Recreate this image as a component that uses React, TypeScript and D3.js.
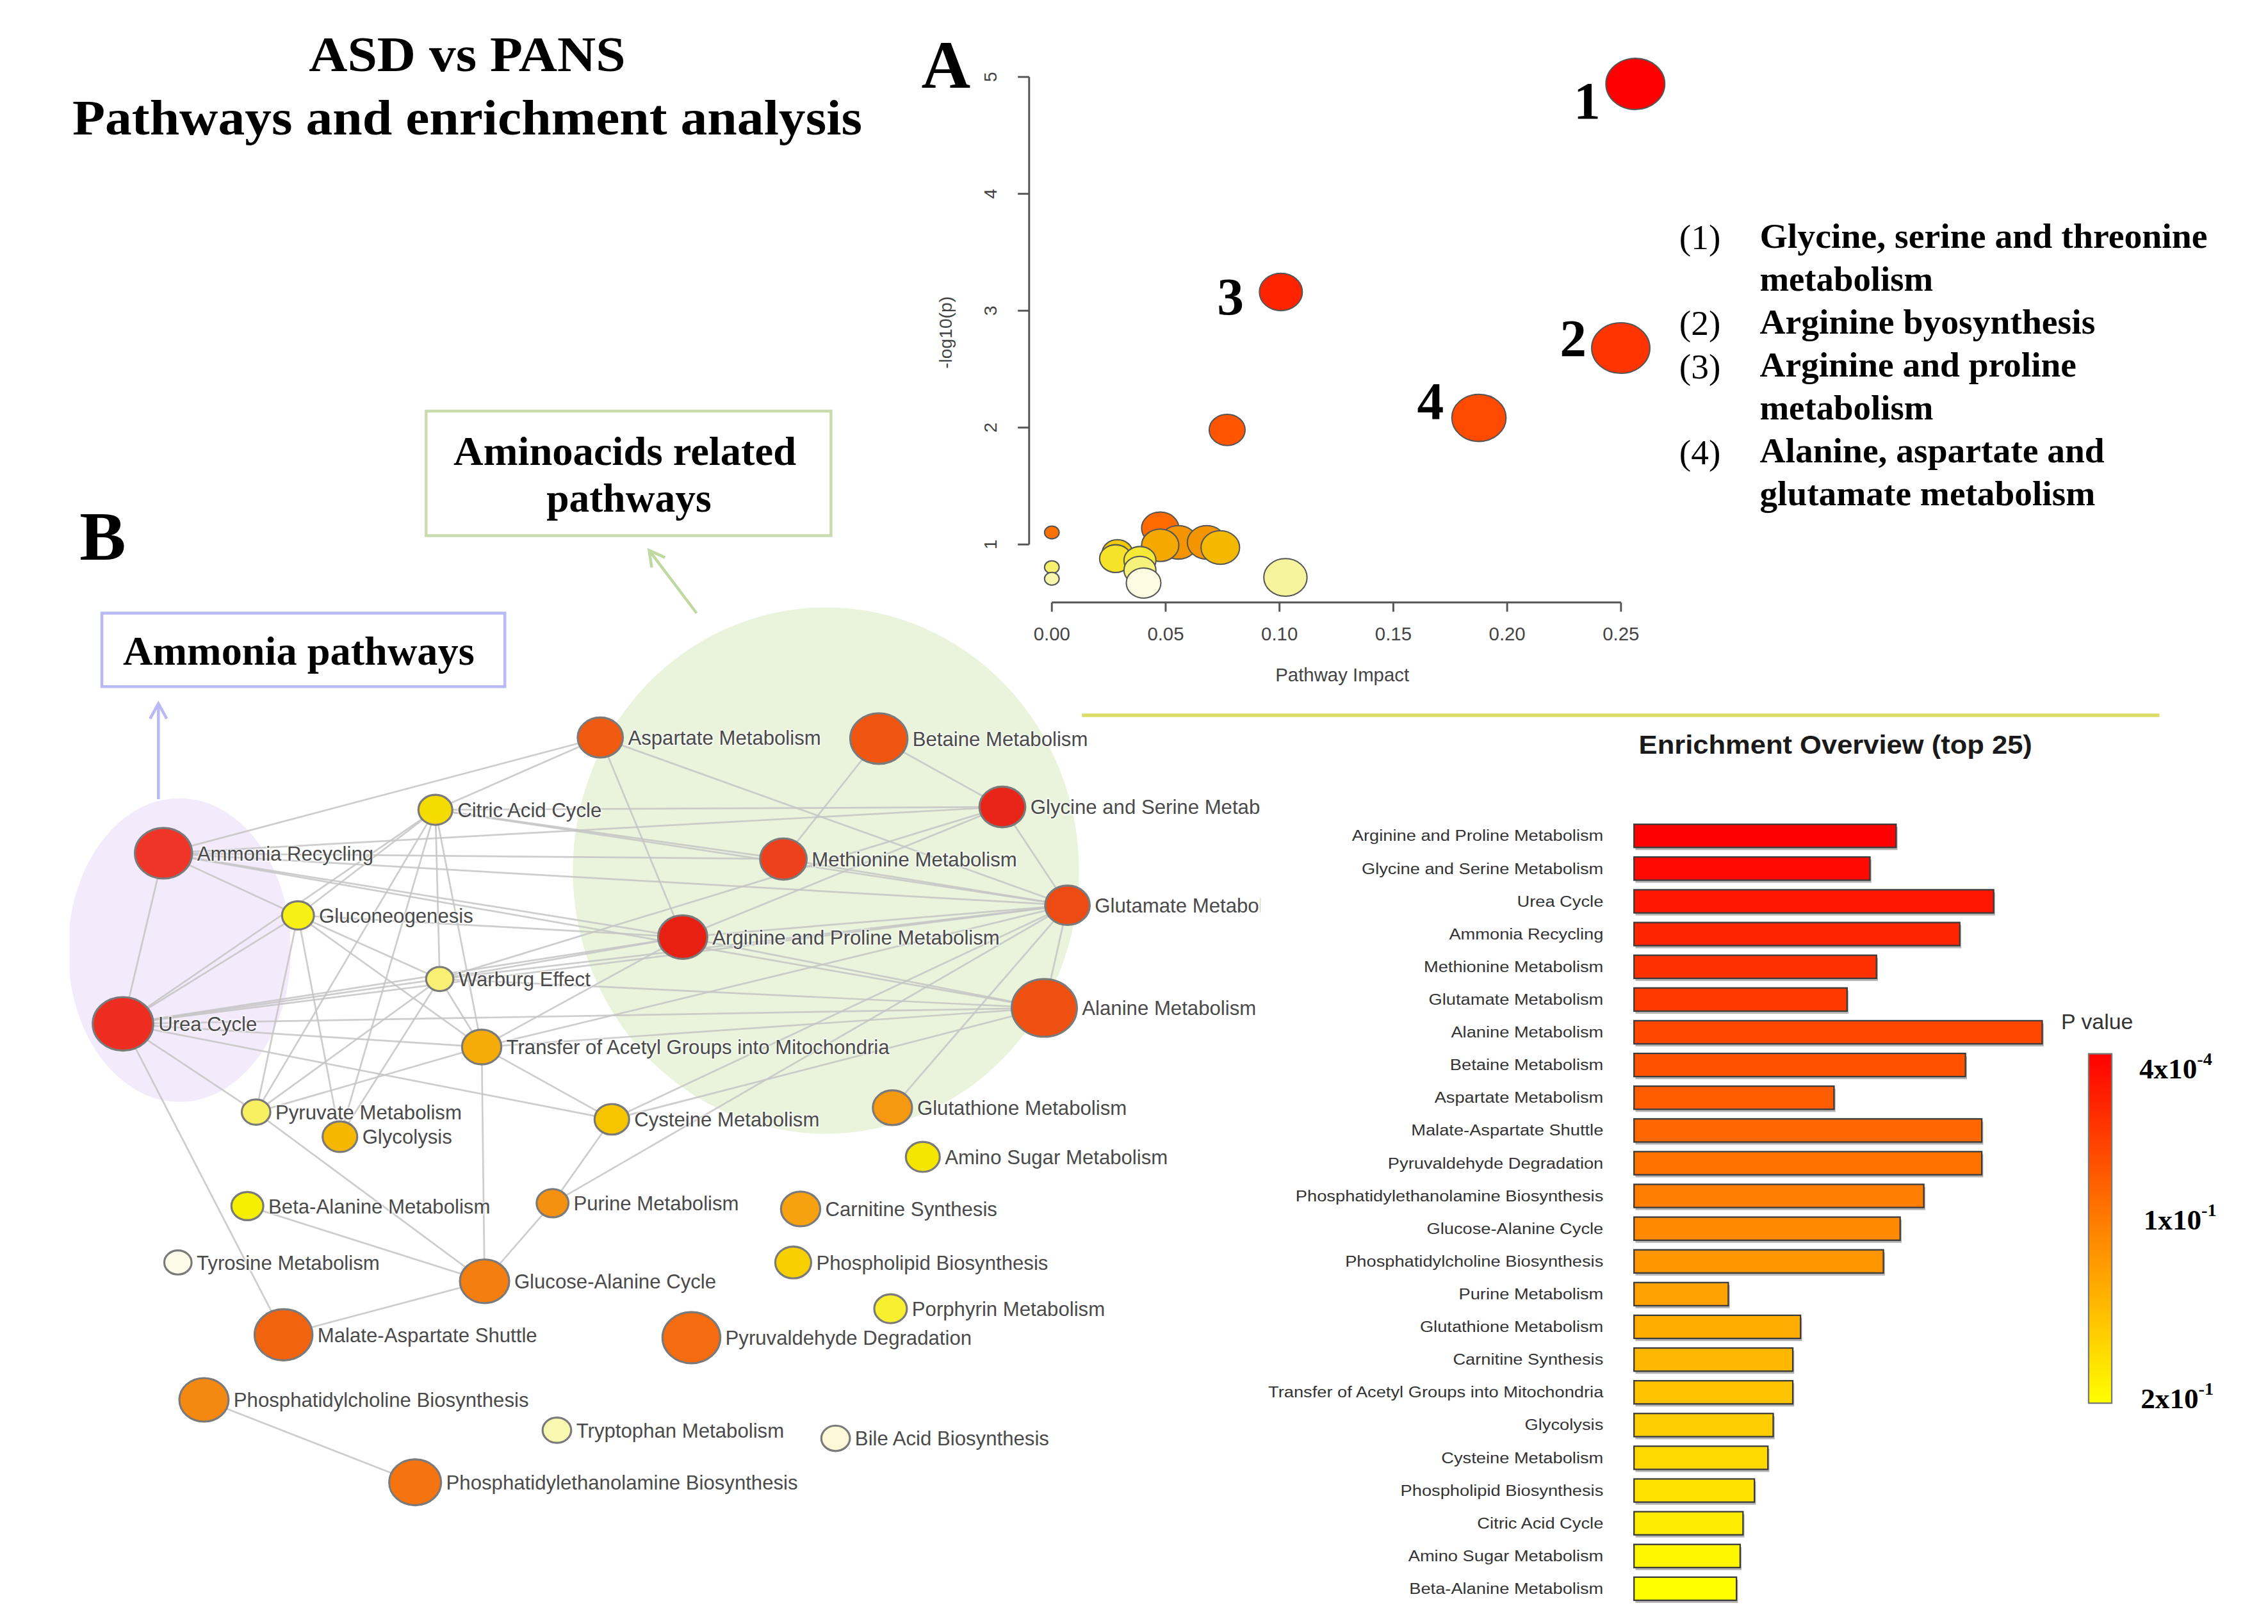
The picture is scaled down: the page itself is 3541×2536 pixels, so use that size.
import React from 'react';
import * as d3 from 'd3';

const SERIF = '"Liberation Serif", "Times New Roman", Times, serif';
const SANS = '"Liberation Sans", Arial, Helvetica, sans-serif';

// ---------- Panel A: pathway impact vs -log10(p) ----------
const impactPoints = [
  { impact: 0.0476, logp: 1.139, size: 0.56, tag: '' },
  { impact: 0.0556, logp: 1.018, size: 0.58, tag: '' },
  { impact: 0.0476, logp: 0.993, size: 0.56, tag: '' },
  { impact: 0.068, logp: 1.018, size: 0.58, tag: '' },
  { impact: 0.074, logp: 0.974, size: 0.58, tag: '' },
  { impact: 0.0288, logp: 0.927, size: 0.46, tag: '' },
  { impact: 0.028, logp: 0.879, size: 0.48, tag: '' },
  { impact: 0.0387, logp: 0.864, size: 0.48, tag: '' },
  { impact: 0.0387, logp: 0.78, size: 0.48, tag: '' },
  { impact: 0.0403, logp: 0.67, size: 0.52, tag: '' },
  { impact: 0.1026, logp: 0.718, size: 0.65, tag: '' },
  { impact: 0.0, logp: 1.103, size: 0.22, tag: '' },
  { impact: 0.0, logp: 0.806, size: 0.22, tag: '' },
  { impact: 0.0, logp: 0.707, size: 0.22, tag: '' },
  { impact: 0.077, logp: 1.98, size: 0.54, tag: '' },
  { impact: 0.1876, logp: 2.083, size: 0.815, tag: '4' },
  { impact: 0.1006, logp: 3.16, size: 0.645, tag: '3' },
  { impact: 0.2499, logp: 2.68, size: 0.875, tag: '2' },
  { impact: 0.2563, logp: 4.94, size: 0.885, tag: '1' },
];
// label placement (gap left of bubble, baseline offset)
const tagOffsets: Record<string, [number, number]> = {
  '1': [-3.8, 23.7],
  '2': [-3.5, 5.4],
  '3': [-10.7, 15.6],
  '4': [-5.5, 0.6],
};

const pathwayKey = [
  { num: '(1)', lines: ['Glycine, serine and threonine', 'metabolism'] },
  { num: '(2)', lines: ['Arginine byosynthesis'] },
  { num: '(3)', lines: ['Arginine and proline', 'metabolism'] },
  { num: '(4)', lines: ['Alanine, aspartate and', 'glutamate metabolism'] },
];
const keyWidths = [309.6, 119.9, 232, 219, 120, 238.4, 232];

// ---------- Enrichment overview (top 25) ----------
const enrichNames = [
  'Arginine and Proline Metabolism',
  'Glycine and Serine Metabolism',
  'Urea Cycle',
  'Ammonia Recycling',
  'Methionine Metabolism',
  'Glutamate Metabolism',
  'Alanine Metabolism',
  'Betaine Metabolism',
  'Aspartate Metabolism',
  'Malate-Aspartate Shuttle',
  'Pyruvaldehyde Degradation',
  'Phosphatidylethanolamine Biosynthesis',
  'Glucose-Alanine Cycle',
  'Phosphatidylcholine Biosynthesis',
  'Purine Metabolism',
  'Glutathione Metabolism',
  'Carnitine Synthesis',
  'Transfer of Acetyl Groups into Mitochondria',
  'Glycolysis',
  'Cysteine Metabolism',
  'Phospholipid Biosynthesis',
  'Citric Acid Cycle',
  'Amino Sugar Metabolism',
  'Beta-Alanine Metabolism',
];
const enrichFold = [
  6.42, 5.78, 8.81, 7.98, 5.94, 5.22, 10.0, 8.12, 4.9, 8.52, 8.52, 7.1,
  6.52, 6.11, 2.31, 4.08, 3.89, 3.89, 3.41, 3.28, 2.95, 2.67, 2.6, 2.51,
];
const enrichP = [
  0.0004, 0.0005, 0.0007, 0.001, 0.0013, 0.0017, 0.0023, 0.003, 0.004, 0.0052,
  0.0068, 0.009, 0.012, 0.016, 0.021, 0.028, 0.036, 0.047, 0.062, 0.08, 0.1,
  0.13, 0.16, 0.2,
];

// ---------- Panel B: pathway network ----------
const netNodes = [
  { key: 'asp', name: 'Aspartate Metabolism', p: 0.004, size: 0.68 },
  { key: 'bet', name: 'Betaine Metabolism', p: 0.003, size: 0.86 },
  { key: 'cit', name: 'Citric Acid Cycle', p: 0.13, size: 0.51 },
  { key: 'gly', name: 'Glycine and Serine Metabolism', p: 0.0005, size: 0.69 },
  { key: 'amm', name: 'Ammonia Recycling', p: 0.001, size: 0.86 },
  { key: 'met', name: 'Methionine Metabolism', p: 0.0013, size: 0.7 },
  { key: 'glc', name: 'Gluconeogenesis', p: 0.22, size: 0.48 },
  { key: 'glu', name: 'Glutamate Metabolism', p: 0.0017, size: 0.67 },
  { key: 'arg', name: 'Arginine and Proline Metabolism', p: 0.0004, size: 0.74 },
  { key: 'war', name: 'Warburg Effect', p: 0.32, size: 0.41 },
  { key: 'ala', name: 'Alanine Metabolism', p: 0.0023, size: 0.98 },
  { key: 'urea', name: 'Urea Cycle', p: 0.0007, size: 0.91 },
  { key: 'tra', name: 'Transfer of Acetyl Groups into Mitochondria', p: 0.047, size: 0.59 },
  { key: 'pyr', name: 'Pyruvate Metabolism', p: 0.3, size: 0.43 },
  { key: 'gcl', name: 'Glycolysis', p: 0.062, size: 0.52 },
  { key: 'cys', name: 'Cysteine Metabolism', p: 0.08, size: 0.52 },
  { key: 'gsh', name: 'Glutathione Metabolism', p: 0.028, size: 0.59 },
  { key: 'ams', name: 'Amino Sugar Metabolism', p: 0.16, size: 0.51 },
  { key: 'bal', name: 'Beta-Alanine Metabolism', p: 0.2, size: 0.48 },
  { key: 'pur', name: 'Purine Metabolism', p: 0.021, size: 0.48 },
  { key: 'car', name: 'Carnitine Synthesis', p: 0.036, size: 0.59 },
  { key: 'tyr', name: 'Tyrosine Metabolism', p: 0.6, size: 0.41 },
  { key: 'phl', name: 'Phospholipid Biosynthesis', p: 0.1, size: 0.54 },
  { key: 'gac', name: 'Glucose-Alanine Cycle', p: 0.012, size: 0.74 },
  { key: 'por', name: 'Porphyrin Metabolism', p: 0.25, size: 0.49 },
  { key: 'mas', name: 'Malate-Aspartate Shuttle', p: 0.0052, size: 0.87 },
  { key: 'pdd', name: 'Pyruvaldehyde Degradation', p: 0.0068, size: 0.87 },
  { key: 'pc', name: 'Phosphatidylcholine Biosynthesis', p: 0.016, size: 0.74 },
  { key: 'trp', name: 'Tryptophan Metabolism', p: 0.4, size: 0.43 },
  { key: 'bil', name: 'Bile Acid Biosynthesis', p: 0.5, size: 0.43 },
  { key: 'pe', name: 'Phosphatidylethanolamine Biosynthesis', p: 0.009, size: 0.78 },
];

// force-layout positions of the network (layout units)
const netLayout: Record<string, [number, number]> = {
  asp: [367, 20], bet: [559.6, 20.7], cit: [253, 70], gly: [645, 68],
  amm: [65, 100], met: [493.6, 104], glc: [158, 143], glu: [690, 136],
  arg: [424, 158], war: [256, 187], ala: [674, 207], urea: [37, 218],
  tra: [285, 234], pyr: [129, 279], gcl: [187, 296], cys: [375, 284],
  gsh: [569, 276], ams: [590, 310], bal: [123, 344], pur: [334, 342],
  car: [505.5, 346], tyr: [75, 383], phl: [500.4, 383], gac: [287, 396],
  por: [567.7, 415], mas: [148, 433], pdd: [430, 435], pc: [93, 478],
  trp: [337, 499], bil: [529.7, 504.6], pe: [239, 535],
};

const netEdges: [string, string][] = [
  ['amm', 'urea'], ['amm', 'glc'], ['amm', 'asp'], ['amm', 'gly'], ['amm', 'met'],
  ['amm', 'glu'], ['amm', 'arg'], ['amm', 'ala'],
  ['urea', 'glc'], ['urea', 'cit'], ['urea', 'war'], ['urea', 'arg'], ['urea', 'ala'],
  ['urea', 'glu'], ['urea', 'tra'], ['urea', 'cys'], ['urea', 'pyr'], ['urea', 'mas'],
  ['cit', 'asp'], ['cit', 'glc'], ['cit', 'pyr'], ['cit', 'war'], ['cit', 'tra'],
  ['cit', 'gcl'], ['cit', 'gly'], ['cit', 'glu'], ['cit', 'met'],
  ['glc', 'pyr'], ['glc', 'gcl'], ['glc', 'tra'], ['glc', 'war'], ['glc', 'arg'],
  ['war', 'pyr'], ['war', 'gcl'], ['war', 'tra'], ['war', 'arg'], ['war', 'glu'], ['war', 'ala'],
  ['tra', 'pyr'], ['tra', 'gac'], ['tra', 'cys'], ['tra', 'glu'], ['tra', 'ala'], ['tra', 'arg'],
  ['pyr', 'gac'], ['bal', 'gac'], ['pur', 'gac'], ['mas', 'gac'], ['cys', 'pur'],
  ['cys', 'glu'], ['cys', 'ala'], ['pur', 'glu'],
  ['asp', 'arg'], ['asp', 'glu'], ['bet', 'met'], ['bet', 'gly'],
  ['gly', 'glu'], ['gly', 'arg'], ['gly', 'war'], ['met', 'glu'],
  ['arg', 'glu'], ['arg', 'ala'], ['glu', 'ala'], ['gsh', 'glu'],
  ['pc', 'pe'],
];

function arrowHead(x1: number, y1: number, x2: number, y2: number, len = 12, spread = 0.5) {
  const a = Math.atan2(y2 - y1, x2 - x1);
  const p1 = [x2 - len * Math.cos(a - spread), y2 - len * Math.sin(a - spread)];
  const p2 = [x2 - len * Math.cos(a + spread), y2 - len * Math.sin(a + spread)];
  return `M${p1[0]},${p1[1]}L${x2},${y2}L${p2[0]},${p2[1]}`;
}

export default function App() {
  // scatter scales
  const xImp = d3.scaleLinear().domain([0, 0.25]).range([727.2, 1120.7]);
  const yLog = d3.scaleLinear().domain([1, 5]).range([376.5, 53.2]);
  const rImp = d3.scaleLinear().domain([0, 1]).range([0, 20]);
  const colImp = d3
    .scaleLinear<string>()
    .domain([0.67, 0.72, 0.8, 0.87, 0.93, 0.975, 1.0, 1.03, 1.12, 2.0, 2.1, 2.7, 3.2, 4.95])
    .range(['#fdfbe2', '#f6f39a', '#f5f070', '#f5e830', '#f0c800', '#f5b800', '#f5a300',
      '#f28a00', '#ff6a00', '#ff5500', '#ff4800', '#ff3300', '#ff2200', '#fe0000'])
    .clamp(true);

  // enrichment scales
  const xFold = d3.scaleLinear().domain([0, 10]).range([1129.7, 1411.9]);
  const yRow = d3.scalePoint<string>().domain(enrichNames).range([578, 1098.6]);
  const colP = d3
    .scaleLinear<string>()
    .domain([0.7, 2.05, 3.4])
    .range(['#ffff00', '#ff7d00', '#ff0000'])
    .clamp(true);
  const barH = 16;

  // network scales
  const nx = d3.scaleLinear().domain([0, 832]).range([48, 880]);
  const ny = d3.scaleLinear().domain([0, 640]).range([490, 1130]);
  const rNet = d3.scaleLinear().domain([0, 1]).range([0, 23]);
  const colNet = d3
    .scaleLinear<string>()
    .domain([0.22, 0.3, 0.4, 0.5, 0.6, 0.7, 0.89, 1.0, 1.2, 1.45, 1.7, 1.9, 2.1, 2.4, 2.8, 3.0, 3.4])
    .range(['#fcfae8', '#fcf8d8', '#f8f8b0', '#f8f070', '#f8f030', '#f5f000', '#f5dc00', '#f8d000',
      '#f6b800', '#f5a010', '#f59010', '#f58010', '#f57010', '#f05a10', '#ec4a14', '#ee3528', '#e82014'])
    .clamp(true);
  const pos = (k: string) => [nx(netLayout[k][0]), ny(netLayout[k][1])];

  let keyLine = 0;

  return (
    <svg
      width={3541}
      height={2536}
      viewBox="0 0 1568 1123"
      style={{ position: 'absolute', left: 0, top: 0, background: '#fff' }}
    >
      <defs>
        <clipPath id="netClip">
          <rect x={48} y={400} width={823.5} height={720} />
        </clipPath>
        <linearGradient id="pGrad" x1="0" y1="0" x2="0" y2="1">
          <stop offset="0%" stopColor="#ff0000" />
          <stop offset="50%" stopColor="#ff8200" />
          <stop offset="100%" stopColor="#ffff00" />
        </linearGradient>
      </defs>
      <rect x={0} y={0} width={1568} height={1123} fill="#fff" />

      {/* ---------- Panel B network ---------- */}
      <g clipPath="url(#netClip)">
        <ellipse cx={124} cy={657} rx={77} ry={105} fill="#f3ebfc" />
        <ellipse cx={571} cy={602} rx={175} ry={182} fill="#eaf4dd" />
        {netEdges.map(([a, b], i) => {
          const [x1, y1] = pos(a);
          const [x2, y2] = pos(b);
          return <line key={i} x1={x1} y1={y1} x2={x2} y2={y2} stroke="#c4c4c4" strokeWidth={1.2} strokeOpacity={0.85} />;
        })}
        {netNodes.map((n) => {
          const [cx, cy] = pos(n.key);
          const rx = rNet(n.size);
          return (
            <g key={n.key}>
              <ellipse cx={cx} cy={cy} rx={rx} ry={rx / 1.13} fill={colNet(-Math.log10(n.p))} stroke="#7a7a7a" strokeWidth={1.4} />
              <text
                x={cx + rx + 3.5}
                y={cy + 5}
                fontFamily={SANS}
                fontSize={13.8}
                fill="#4a4a4a"
                stroke="#ffffff"
                strokeWidth={1.6}
                strokeOpacity={0.55}
                paintOrder="stroke"
              >
                {n.name}
              </text>
            </g>
          );
        })}
      </g>

      {/* annotation boxes */}
      <rect x={294.6} y={284.3} width={279.9} height={86.1} fill="none" stroke="#c9dcad" strokeWidth={2} />
      <text x={432} y={321.6} textAnchor="middle" fontFamily={SERIF} fontWeight="bold" fontSize={28} textLength={237} lengthAdjust="spacingAndGlyphs">
        Aminoacids related
      </text>
      <text x={434.8} y={354} textAnchor="middle" fontFamily={SERIF} fontWeight="bold" fontSize={28} textLength={114} lengthAdjust="spacingAndGlyphs">
        pathways
      </text>
      <line x1={481.6} y1={424} x2={448.8} y2={380.6} stroke="#c0d9a2" strokeWidth={2} />
      <path d={arrowHead(481.6, 424, 448.8, 380.6)} fill="none" stroke="#c0d9a2" strokeWidth={2} />

      <rect x={70.4} y={424} width={278.6} height={50.8} fill="none" stroke="#b9b9f6" strokeWidth={2} />
      <text x={206.5} y={459.8} textAnchor="middle" fontFamily={SERIF} fontWeight="bold" fontSize={28} textLength={243} lengthAdjust="spacingAndGlyphs">
        Ammonia pathways
      </text>
      <line x1={109.5} y1={552.6} x2={109.5} y2={486.5} stroke="#b9b9f6" strokeWidth={2} />
      <path d={arrowHead(109.5, 552.6, 109.5, 486.5)} fill="none" stroke="#b9b9f6" strokeWidth={2} />

      {/* titles */}
      <text x={323} y={49} textAnchor="middle" fontFamily={SERIF} fontWeight="bold" fontSize={35} textLength={219} lengthAdjust="spacingAndGlyphs">
        ASD vs PANS
      </text>
      <text x={323} y={93} textAnchor="middle" fontFamily={SERIF} fontWeight="bold" fontSize={35} textLength={546} lengthAdjust="spacingAndGlyphs">
        Pathways and enrichment analysis
      </text>
      <text x={637} y={60.7} fontFamily={SERIF} fontWeight="bold" fontSize={47}>A</text>
      <text x={55} y={387} fontFamily={SERIF} fontWeight="bold" fontSize={48}>B</text>

      {/* ---------- Panel A scatter ---------- */}
      <g>
        <line x1={711.5} y1={yLog(1)} x2={711.5} y2={yLog(5)} stroke="#555" strokeWidth={1.3} />
        {yLog.ticks(4).map((t) => (
          <g key={t}>
            <line x1={703.7} x2={711.5} y1={yLog(t)} y2={yLog(t)} stroke="#555" strokeWidth={1.3} />
            <text
              transform={`translate(689,${yLog(t)}) rotate(-90)`}
              textAnchor="middle"
              fontFamily={SANS}
              fontSize={12.5}
              fill="#444"
            >
              {t}
            </text>
          </g>
        ))}
        <line x1={xImp(0)} y1={416.6} x2={xImp(0.25)} y2={416.6} stroke="#555" strokeWidth={1.3} />
        {xImp.ticks(5).map((t) => (
          <g key={t}>
            <line x1={xImp(t)} x2={xImp(t)} y1={416.6} y2={423} stroke="#555" strokeWidth={1.3} />
            <text x={xImp(t)} y={443} textAnchor="middle" fontFamily={SANS} fontSize={13} fill="#444">
              {d3.format('.2f')(t)}
            </text>
          </g>
        ))}
        <text x={928} y={471} textAnchor="middle" fontFamily={SANS} fontSize={13} fill="#444">
          Pathway Impact
        </text>
        <text transform="translate(658,230) rotate(-90)" textAnchor="middle" fontFamily={SANS} fontSize={12.5} fill="#444">
          -log10(p)
        </text>
        {impactPoints.map((d, i) => {
          const ry = rImp(d.size);
          return (
            <ellipse
              key={i}
              cx={xImp(d.impact)}
              cy={yLog(d.logp)}
              rx={ry * 1.15}
              ry={ry}
              fill={colImp(d.logp)}
              stroke="#555"
              strokeWidth={0.9}
            />
          );
        })}
        {impactPoints
          .filter((d) => d.tag)
          .map((d) => {
            const rx = rImp(d.size) * 1.15;
            const [gap, dy] = tagOffsets[d.tag];
            return (
              <text
                key={d.tag}
                x={xImp(d.impact) - rx + gap}
                y={yLog(d.logp) + dy}
                textAnchor="end"
                fontFamily={SERIF}
                fontWeight="bold"
                fontSize={37}
              >
                {d.tag}
              </text>
            );
          })}
      </g>

      {/* pathway key */}
      {pathwayKey.map((item, i) => {
        const first = keyLine;
        const out = (
          <g key={i}>
            <text x={1161} y={171.4 + first * 29.7 + 1} fontFamily={SERIF} fontSize={24.5}>
              {item.num}
            </text>
            {item.lines.map((ln, j) => (
              <text
                key={j}
                x={1216.6}
                y={171.4 + (first + j) * 29.7}
                fontFamily={SERIF}
                fontWeight="bold"
                fontSize={24.5}
                textLength={keyWidths[first + j]}
                lengthAdjust="spacingAndGlyphs"
              >
                {ln}
              </text>
            ))}
          </g>
        );
        keyLine += item.lines.length;
        return out;
      })}

      {/* ---------- Enrichment overview ---------- */}
      <line x1={748} y1={494.6} x2={1493} y2={494.6} stroke="#dcdc68" strokeWidth={2.4} />
      <text x={1269} y={521} textAnchor="middle" fontFamily={SANS} fontWeight="bold" fontSize={18} textLength={272} lengthAdjust="spacingAndGlyphs" fill="#1a1a1a">
        Enrichment Overview (top 25)
      </text>
      {enrichNames.map((name, i) => {
        const cy = yRow(name) as number;
        const w = xFold(enrichFold[i]) - xFold(0);
        return (
          <g key={name}>
            <rect x={xFold(0) + 1} y={cy - barH / 2 + 1.8} width={w} height={barH} fill="#777" opacity={0.55} />
            <rect x={xFold(0)} y={cy - barH / 2} width={w} height={barH} fill={colP(-Math.log10(enrichP[i]))} stroke="#3a3a3a" strokeWidth={1} />
            <text
              transform={`translate(1108.5,${cy + 3.6}) scale(1.15,1)`}
              textAnchor="end"
              fontFamily={SANS}
              fontSize={10.5}
              fill="#333"
            >
              {name}
            </text>
          </g>
        );
      })}

      {/* colour key */}
      <text x={1425} y={711.7} fontFamily={SANS} fontSize={15} fill="#333">P value</text>
      <rect x={1444} y={728.7} width={16} height={241.6} fill="url(#pGrad)" stroke="#777" strokeWidth={1} />
      {[
        ['4x10', '-4', 1479, 745.6],
        ['1x10', '-1', 1482, 850],
        ['2x10', '-1', 1480, 973.6],
      ].map(([base, exp, lx, ly]) => (
        <text key={String(ly)} x={lx as number} y={ly as number} fontFamily={SERIF} fontWeight="bold" fontSize={20}>
          {base}
          <tspan fontSize={12.5} dy={-9}>{exp}</tspan>
        </text>
      ))}
    </svg>
  );
}
